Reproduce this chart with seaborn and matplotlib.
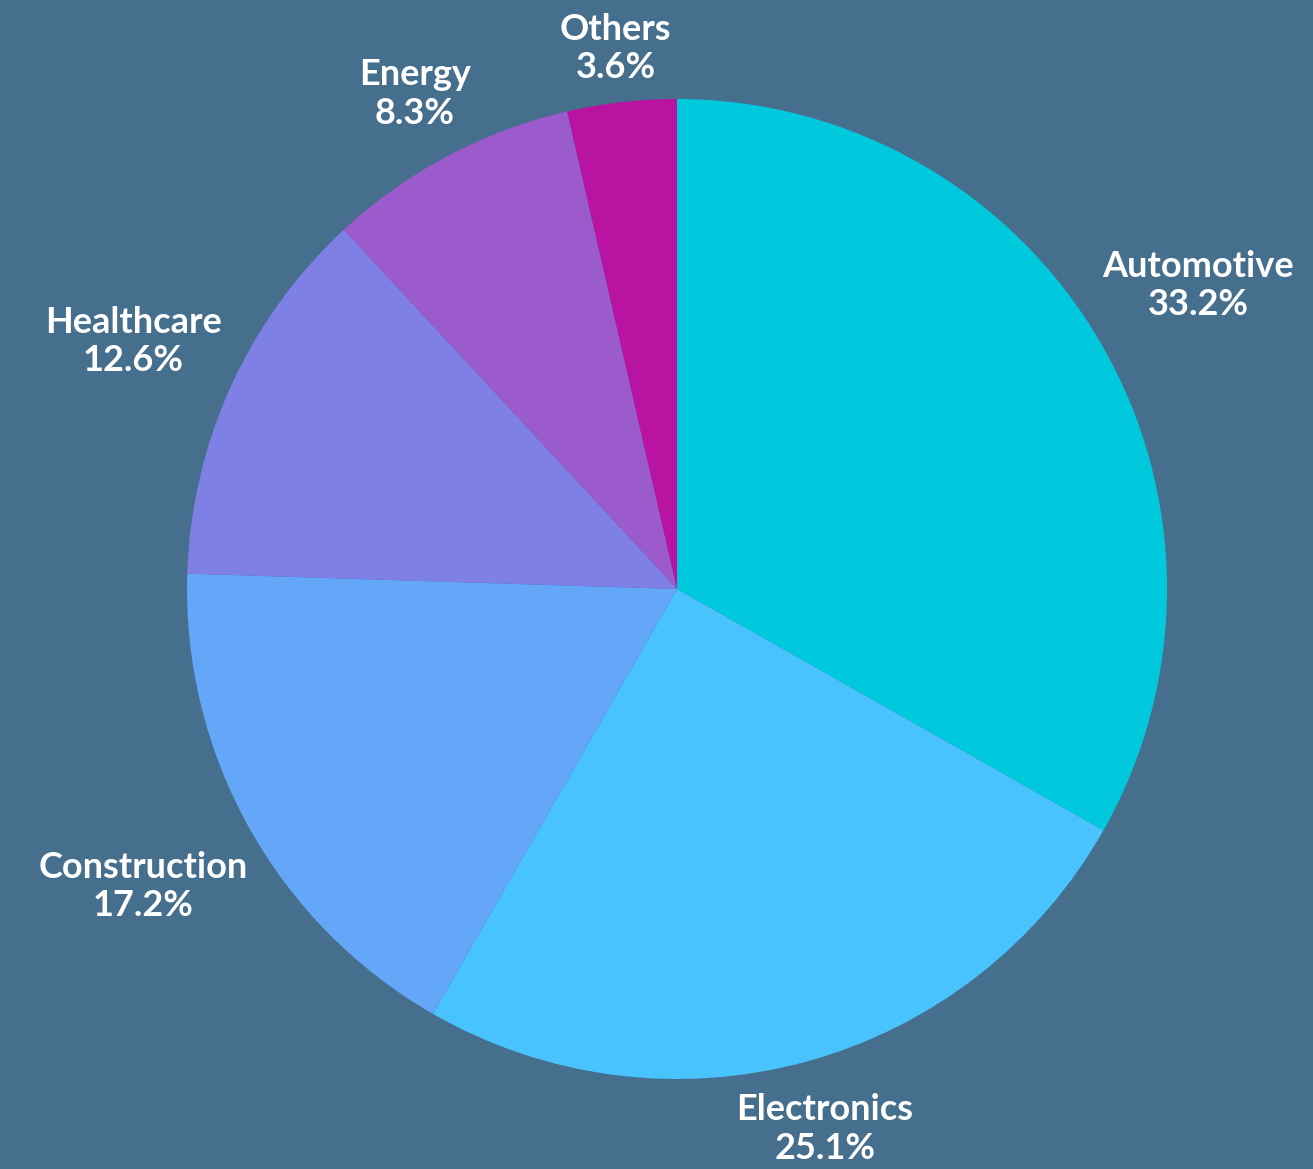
import numpy as np
import matplotlib
matplotlib.use("Agg")
import matplotlib.pyplot as plt
import seaborn as sns

# ---------------- data ----------------
sectors = ["Automotive", "Electronics", "Construction", "Healthcare", "Energy", "Others"]
shares = [33.2, 25.1, 17.2, 12.6, 8.3, 3.6]
colors = ["#00C9DD", "#48C3FD", "#64A6F8", "#7E80E6", "#9B5BCC", "#B913A1"]

bg = "#466E8D"

sns.set_theme(style="white", rc={"figure.facecolor": bg, "axes.facecolor": bg})
plt.rcParams["font.family"] = ["Lato", "DejaVu Sans"]

fig = plt.figure(figsize=(13.13, 11.69), dpi=100)
ax = fig.add_axes([0, 0, 1, 1])
ax.set_facecolor(bg)

wedges, _ = ax.pie(shares, colors=sns.color_palette(colors), startangle=90,
                   counterclock=False, radius=1,
                   wedgeprops=dict(linewidth=0))

# pixel geometry: radius 490 px, center at (677, 589)
ax.set_xlim(-677 / 490, (1313 - 677) / 490)
ax.set_ylim(-(1169 - 589) / 490, 589 / 490)
ax.set_aspect("auto")
ax.axis("off")

fig.canvas.draw()
renderer = fig.canvas.get_renderer()
px = 490.0
gap = 1.025

# outside labels: push each box out along the slice's mid-angle
for w, name, val in zip(wedges, sectors, shares):
    ang = np.deg2rad((w.theta1 + w.theta2) / 2)
    c, s = np.cos(ang), np.sin(ang)
    t = ax.text(0, 0, f"{name}\n{val}%", ha="center", va="center", color="white",
                fontsize=26, fontweight="bold", linespacing=1.2)
    bb = t.get_window_extent(renderer)
    hw, hh = bb.width / 2 / px, bb.height / 2 / px
    d = gap + hw * abs(c) + hh * abs(s)
    t.set_position((d * c, d * s))

fig.savefig("out.png", dpi=100, facecolor=bg)
